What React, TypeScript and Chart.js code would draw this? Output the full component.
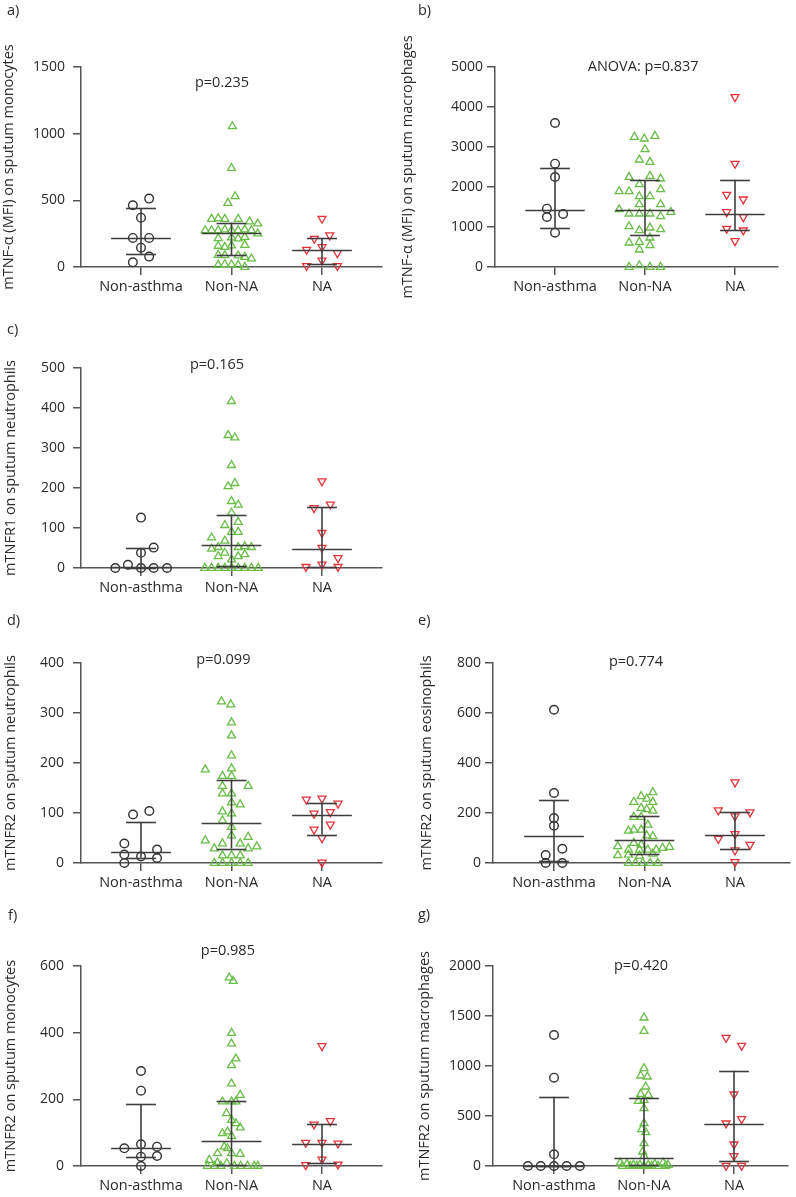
import React, { useEffect, useRef } from "react";
import { Chart, registerables } from "chart.js";
Chart.register(...registerables);

// ---------- DATA ----------
const CATEGORIES = ["Non-asthma", "Non-NA", "NA"];

// Each point: [x offset within the group (category units), value]
type Pt = [number, number];

// a) mTNF-α (MFI) on sputum monocytes
const aNonAsthma: Pt[] = [[0.09, 513], [-0.09, 463], [0, 370], [-0.09, 218], [0.09, 218], [0, 145], [0.09, 78], [-0.09, 35]];
const aNonNA: Pt[] = [
  [0.01, 1055], [0, 742], [0.04, 530], [-0.04, 480],
  [-0.22, 360], [-0.147, 365], [-0.074, 360], [0.074, 360], [0.2, 340], [0.29, 325],
  [-0.29, 275], [-0.22, 275], [-0.147, 275], [-0.074, 280], [0, 275], [0.074, 275], [0.147, 280], [0.22, 275], [0.29, 250],
  [-0.147, 215], [0, 220], [0.074, 213], [0.147, 225],
  [-0.147, 158], [-0.074, 150], [0, 160], [0.147, 165],
  [-0.147, 90], [-0.074, 88], [0.074, 85], [0.147, 75], [0.22, 63],
  [-0.147, 15], [-0.074, 20], [0, 18], [0.074, 15], [0.147, 0],
];
const aNA: Pt[] = [[0, 363], [-0.085, 213], [0.085, 238], [-0.17, 130], [0, 150], [0.17, 105], [0, 50], [-0.17, 8], [0.17, 8]];
const aMedian = [218, 258, 128];
const aQ1 = [97, 88, 20];
const aQ3 = [440, 333, 218];

// b) mTNF-α (MFI) on sputum macrophages
const bNonAsthma: Pt[] = [[0, 3600], [0, 2583], [0, 2250], [-0.09, 1458], [-0.09, 1250], [0.09, 1325], [0, 858]];
const bNonNA: Pt[] = [
  [-0.118, 3250], [-0.008, 3208], [0.11, 3275], [0, 2942], [-0.063, 2683], [0.055, 2625],
  [-0.177, 2250], [0.055, 2275], [0.173, 2208], [-0.063, 2067], [-0.287, 1892], [-0.177, 1892],
  [0.173, 1942], [-0.063, 1767], [0.055, 1767], [-0.063, 1567], [0.173, 1567], [-0.287, 1442],
  [-0.177, 1333], [-0.063, 1333], [0.055, 1333], [0.173, 1267], [0.287, 1375], [-0.177, 1017],
  [-0.063, 917], [0.055, 983], [0.173, 942], [0.055, 733], [-0.063, 625], [-0.177, 608],
  [0.055, 542], [-0.063, 433], [-0.177, 0], [-0.063, 42], [0.055, 0], [0.173, 0],
];
const bNA: Pt[] = [[0, 4250], [0, 2583], [-0.092, 1808], [0.092, 1692], [-0.092, 1375], [0.092, 1250], [-0.092, 958], [0.092, 917], [0, 650]];
const bMedian = [1417, 1433, 1333];
const bQ1 = [975, 808, 917];
const bQ3 = [2483, 2167, 2183];

// c) mTNFR1 on sputum neutrophils
const cNonAsthma: Pt[] = [[0, 126], [0.14, 51], [0, 38], [-0.144, 8], [-0.284, 0], [0, 0], [0.14, 0], [0.288, 0]];
const cNonNA: Pt[] = [
  [0, 417], [-0.037, 332], [0.037, 326], [0, 257], [-0.037, 204], [0.037, 212], [0, 167], [0.074, 158],
  [0, 138], [-0.074, 107], [0.074, 115], [0, 90], [0.074, 90], [-0.22, 76], [-0.074, 68], [-0.147, 52],
  [-0.22, 48], [0.074, 52], [0.147, 54], [0.22, 52], [-0.074, 38], [-0.147, 29], [0.074, 29], [0.147, 34],
  [0, 21], [-0.295, 0], [-0.22, 0], [-0.147, 0], [-0.074, 0], [0, 0], [0.074, 0], [0.147, 0], [0.22, 0], [0.295, 0],
];
const cNA: Pt[] = [[0, 217], [-0.088, 150], [0.092, 159], [0, 88], [0, 51], [0.177, 25], [0, 9], [-0.177, 3], [0.177, 3]];
const cMedian = [3, 57, 47];
const cQ1 = [0, 5, 3];
const cQ3 = [50, 133, 152];

// d) mTNFR2 on sputum neutrophils
const dNonAsthma: Pt[] = [[-0.088, 97], [0.092, 104], [-0.184, 39], [-0.184, 17], [0, 13], [0.177, 27], [0.177, 10], [-0.184, 0]];
const dNonNA: Pt[] = [
  [-0.11, 323], [-0.008, 317], [0, 281], [0, 255], [0, 215], [-0.29, 187], [0, 189], [-0.1, 174], [0, 174],
  [0.184, 154], [-0.1, 154], [-0.1, 139], [0, 139], [0, 121], [0.096, 117], [-0.1, 103], [0, 99], [-0.1, 85],
  [0, 72], [0, 55], [-0.29, 45], [0.184, 52], [-0.1, 39], [0.096, 39], [-0.19, 29], [0.184, 29], [0.28, 33],
  [-0.1, 15], [0, 15], [0.096, 15], [-0.19, 0], [-0.1, 0], [0, 0], [0.096, 0], [0.184, 0],
];
const dNA: Pt[] = [[-0.173, 127], [0, 129], [0.177, 119], [-0.088, 99], [0.092, 102], [-0.088, 67], [0.092, 77], [0, 50], [0, 1]];
const dMedian = [22, 81, 97];
const dQ1 = [11, 29, 57];
const dQ3 = [82, 167, 121];

// e) mTNFR2 on sputum eosinophils
const eNonAsthma: Pt[] = [[0, 613], [0, 280], [0, 180], [0, 149], [0.092, 57], [-0.092, 32], [-0.092, 0], [0.092, 0]];
const eNonNA: Pt[] = [
  [0.092, 283], [-0.037, 267], [0.025, 257], [-0.118, 244], [0.092, 244], [-0.037, 220], [0.025, 215], [0.092, 209],
  [-0.118, 184], [-0.037, 184], [0.037, 153], [-0.177, 129], [-0.118, 133], [-0.037, 133], [0.092, 107], [0.025, 110],
  [-0.118, 80], [-0.037, 73], [-0.295, 67], [-0.177, 53], [-0.055, 53], [0.037, 53], [0.13, 53], [0.2, 60], [0.276, 64],
  [-0.295, 31], [-0.177, 33], [-0.055, 29], [0.092, 37], [-0.177, 0], [-0.1, 0], [-0.019, 0], [0.063, 0], [0.147, 0],
];
const eNA: Pt[] = [[0, 323], [-0.184, 211], [0.166, 203], [0, 187], [0, 116], [-0.184, 97], [0.166, 73], [0, 51], [0, 4]];
const eMedian = [107, 91, 111];
const eQ1 = [7, 37, 57];
const eQ3 = [251, 187, 204];

// f) mTNFR2 on sputum monocytes
const fNonAsthma: Pt[] = [[0, 285], [0, 226], [-0.184, 53], [0, 65], [0.177, 58], [0, 28], [0.177, 30], [0, 0]];
const fNonNA: Pt[] = [
  [-0.025, 565], [0.019, 555], [0, 399], [0, 367], [0.048, 322], [0, 302], [0, 247], [0.096, 213], [-0.1, 193],
  [0, 193], [0.048, 193], [-0.055, 158], [0, 138], [0.048, 128], [0.096, 115], [-0.1, 98], [-0.044, 103], [0, 90],
  [-0.08, 58], [-0.044, 53], [-0.155, 38], [0, 38], [0.096, 36], [-0.246, 18], [-0.155, 10], [-0.052, 8],
  [-0.265, 0], [-0.188, 0], [-0.118, 0], [0.033, 0], [0.1, 0], [0.177, 0], [0.25, 0], [0.29, 0],
];
const fNA: Pt[] = [[0, 360], [-0.088, 125], [0.092, 135], [-0.18, 70], [0, 70], [0.177, 68], [0, 20], [-0.18, 3], [0.177, 5]];
const fMedian = [55, 75, 66];
const fQ1 = [28, 2, 10];
const fQ3 = [186, 196, 126];

// g) mTNFR2 on sputum macrophages
const gNonAsthma: Pt[] = [[0, 1310], [0, 883], [0, 117], [-0.29, 0], [-0.147, 0], [0, 0], [0.14, 0], [0.287, 0]];
const gNonNA: Pt[] = [
  [0, 1483], [0, 1350], [0, 977], [-0.037, 903], [0.037, 893], [0.019, 793], [-0.037, 720], [0.048, 710],
  [-0.063, 650], [0, 660], [0, 577], [0, 427], [-0.025, 367], [0.019, 337], [0, 227], [-0.015, 143], [0, 100],
  [-0.265, 33], [-0.19, 20], [-0.118, 10], [-0.044, 10], [0.048, 10], [0.12, 20], [0.213, 33], [0.268, 10],
  [-0.24, 0], [-0.155, 0], [-0.08, 0], [0, 0], [0.085, 0], [0.155, 0], [0.24, 0],
];
const gNA: Pt[] = [[-0.088, 1283], [0.085, 1203], [0, 717], [-0.088, 427], [0.085, 470], [0, 217], [0, 100], [-0.088, 3], [0.085, 3]];
const gMedian = [0, 83, 417];
const gQ1 = [0, 10, 50];
const gQ3 = [693, 677, 953];

// ---------- STYLE ----------
const FONT = "'Open Sans', sans-serif";
const TEXT = "#2a2a2a";
const AXIS = "#555555";
const LINE = "#3d3d3d";
const GREEN = "#69bd48";
const RED = "#e5323a";
const MED_HALF = 0.33;
const CAP_HALF = 0.165;

interface PanelCfg {
  letter: string; yTitle: string; yMax: number; yStep: number;
  groups: Pt[][]; med: number[]; q1: number[]; q3: number[];
  pText: string; pX: number; pY: number;
  left: number; top: number; width: number; height: number;
  areaLeft: number; areaRight: number; areaTop: number; areaBottom: number; axisH: number;
  xMin: number; xMax: number; titleOffset: number; tickPad: number;
  letterX: number; letterY: number;
}

const PANELS: PanelCfg[] = [
  { letter: "a)", yTitle: "mTNF-α (MFI) on sputum monocytes", yMax: 1500, yStep: 500,
    groups: [aNonAsthma, aNonNA, aNA], med: aMedian, q1: aQ1, q3: aQ3, pText: "p=0.235", pX: 0.895, pY: 1380,
    left: 0, top: 0, width: 398, height: 300, areaLeft: 81, areaRight: 382, areaTop: 67, areaBottom: 267, axisH: 33,
    xMin: -0.663, xMax: 2.663, titleOffset: 0, tickPad: 8, letterX: 7, letterY: 15 },
  { letter: "b)", yTitle: "mTNF-α (MFI) on sputum macrophages", yMax: 5000, yStep: 1000,
    groups: [bNonAsthma, bNonNA, bNA], med: bMedian, q1: bQ1, q3: bQ3, pText: "ANOVA: p=0.837", pX: 0.98, pY: 5000,
    left: 398, top: 0, width: 398, height: 300, areaLeft: 495, areaRight: 778, areaTop: 67, areaBottom: 267, axisH: 33,
    xMin: -0.667, xMax: 2.478, titleOffset: 1, tickPad: 4, letterX: 418, letterY: 15 },
  { letter: "c)", yTitle: "mTNFR1 on sputum neutrophils", yMax: 500, yStep: 100,
    groups: [cNonAsthma, cNonNA, cNA], med: cMedian, q1: cQ1, q3: cQ3, pText: "p=0.165", pX: 0.84, pY: 507,
    left: 0, top: 300, width: 398, height: 301, areaLeft: 81, areaRight: 382, areaTop: 368, areaBottom: 568, axisH: 33,
    xMin: -0.663, xMax: 2.663, titleOffset: 2, tickPad: 8, letterX: 7, letterY: 334 },
  { letter: "d)", yTitle: "mTNFR2 on sputum neutrophils", yMax: 400, yStep: 100,
    groups: [dNonAsthma, dNonNA, dNA], med: dMedian, q1: dQ1, q3: dQ3, pText: "p=0.099", pX: 0.91, pY: 406,
    left: 0, top: 595, width: 398, height: 301, areaLeft: 81, areaRight: 382, areaTop: 663, areaBottom: 863, axisH: 33,
    xMin: -0.663, xMax: 2.663, titleOffset: 2, tickPad: 9, letterX: 7, letterY: 625 },
  { letter: "e)", yTitle: "mTNFR2 on sputum eosinophils", yMax: 800, yStep: 200,
    groups: [eNonAsthma, eNonNA, eNA], med: eMedian, q1: eQ1, q3: eQ3, pText: "p=0.774", pX: 0.906, pY: 804,
    left: 398, top: 595, width: 398, height: 301, areaLeft: 493, areaRight: 790, areaTop: 663, areaBottom: 863, axisH: 33,
    xMin: -0.674, xMax: 2.608, titleOffset: 20, tickPad: 4, letterX: 418, letterY: 625 },
  { letter: "f)", yTitle: "mTNFR2 on sputum monocytes", yMax: 600, yStep: 200,
    groups: [fNonAsthma, fNonNA, fNA], med: fMedian, q1: fQ1, q3: fQ3, pText: "p=0.985", pX: 0.96, pY: 645,
    left: 0, top: 895, width: 398, height: 302, areaLeft: 81, areaRight: 382, areaTop: 966, areaBottom: 1166, axisH: 31,
    xMin: -0.663, xMax: 2.663, titleOffset: 2, tickPad: 9, letterX: 8, letterY: 920 },
  { letter: "g)", yTitle: "mTNFR2 on sputum macrophages", yMax: 2000, yStep: 500,
    groups: [gNonAsthma, gNonNA, gNA], med: gMedian, q1: gQ1, q3: gQ3, pText: "p=0.420", pX: 0.967, pY: 2000,
    left: 398, top: 895, width: 398, height: 302, areaLeft: 493, areaRight: 788, areaTop: 966, areaBottom: 1166, axisH: 31,
    xMin: -0.678, xMax: 2.6, titleOffset: 18, tickPad: 4, letterX: 418, letterY: 919 },
];

const GROUP_STYLES = [
  { pointStyle: "circle", radius: 4.3, borderColor: "#333333", rotation: 0, borderWidth: 1.4 },
  { pointStyle: "triangle", radius: 4.6, borderColor: GREEN, rotation: 0, borderWidth: 1.3 },
  { pointStyle: "triangle", radius: 4.6, borderColor: RED, rotation: 180, borderWidth: 1.3 },
];

function Panel({ cfg }: { cfg: PanelCfg }) {
  const ref = useRef<HTMLCanvasElement>(null);
  useEffect(() => {
    const c = cfg;
    const padBottom = c.height - (c.areaBottom - c.top) - c.axisH;
    const summaryPlugin = {
      id: "summary",
      afterDatasetsDraw(chart: any) {
        const { ctx } = chart;
        const x = chart.scales.x;
        const y = chart.scales.y;
        ctx.save();
        ctx.strokeStyle = LINE;
        ctx.lineWidth = 1.6;
        const hline = (i: number, v: number, half: number) => {
          const py = Math.round(y.getPixelForValue(v)) + 0.5;
          ctx.beginPath();
          ctx.moveTo(x.getPixelForValue(i - half), py);
          ctx.lineTo(x.getPixelForValue(i + half), py);
          ctx.stroke();
        };
        for (let i = 0; i < 3; i++) {
          const cx = x.getPixelForValue(i);
          ctx.beginPath();
          ctx.moveTo(cx, y.getPixelForValue(c.q1[i]));
          ctx.lineTo(cx, y.getPixelForValue(c.q3[i]));
          ctx.stroke();
          hline(i, c.med[i], MED_HALF);
          hline(i, c.q1[i], CAP_HALF);
          hline(i, c.q3[i], CAP_HALF);
        }
        ctx.fillStyle = TEXT;
        ctx.font = `14.5px ${FONT}`;
        ctx.textAlign = "center";
        ctx.textBaseline = "middle";
        ctx.fillText(c.pText, x.getPixelForValue(c.pX), y.getPixelForValue(c.pY));
        ctx.textAlign = "left";
        ctx.textBaseline = "alphabetic";
        ctx.fillText(c.letter, c.letterX - c.left, c.letterY - c.top);
        ctx.restore();
      },
    };
    const datasets = c.groups.map((g, gi) => ({
      label: CATEGORIES[gi],
      data: g.map(([off, v]) => ({ x: gi + off, y: v })),
      pointStyle: GROUP_STYLES[gi].pointStyle,
      pointRadius: GROUP_STYLES[gi].radius,
      pointRotation: GROUP_STYLES[gi].rotation,
      pointBorderColor: GROUP_STYLES[gi].borderColor,
      pointBackgroundColor: "rgba(0,0,0,0)",
      pointBorderWidth: GROUP_STYLES[gi].borderWidth,
      showLine: false,
      clip: false as any,
    }));
    const chart = new Chart(ref.current as HTMLCanvasElement, {
      type: "scatter",
      data: { datasets: datasets as any },
      plugins: [summaryPlugin],
      options: {
        responsive: false,
        animation: false,
        devicePixelRatio: 1,
        events: [],
        layout: {
          padding: { left: 0, top: c.areaTop - c.top, right: c.left + c.width - c.areaRight, bottom: padBottom },
        },
        plugins: { legend: { display: false }, tooltip: { enabled: false } },
        scales: {
          x: {
            type: "linear",
            bounds: "data",
            min: c.xMin,
            max: c.xMax,
            afterBuildTicks: (s: any) => { s.ticks = [0, 1, 2].map((v) => ({ value: v })); },
            afterFit: (s: any) => { s.height = c.axisH; },
            grid: { drawOnChartArea: false, drawTicks: true, tickLength: 8, color: AXIS, lineWidth: 1.5 },
            border: { display: true, color: AXIS, width: 1.5 },
            ticks: {
              callback: (v: any) => CATEGORIES[v] ?? "",
              font: { family: FONT, size: 14.5 },
              color: TEXT, padding: 3, maxRotation: 0, autoSkip: false,
            },
          },
          y: {
            type: "linear",
            min: 0,
            max: c.yMax,
            afterFit: (s: any) => { s.width = c.areaLeft - c.left; },
            grid: { drawOnChartArea: false, drawTicks: true, tickLength: 8, color: AXIS, lineWidth: 1.5 },
            border: { display: true, color: AXIS, width: 1.5 },
            ticks: {
              stepSize: c.yStep,
              callback: (v: any) => String(v),
              font: { family: FONT, size: 14 }, color: TEXT, padding: c.tickPad,
            },
            title: {
              display: true, text: c.yTitle, color: TEXT,
              font: { family: FONT, size: 14.5 },
              padding: { top: c.titleOffset, bottom: 0 },
            },
          },
        },
      } as any,
    });
    return () => chart.destroy();
  }, [cfg]);
  return (
    <canvas
      ref={ref}
      width={cfg.width}
      height={cfg.height}
      style={{ position: "absolute", left: cfg.left, top: cfg.top, width: cfg.width, height: cfg.height }}
    />
  );
}

export default function App() {
  return (
    <div style={{ position: "absolute", left: 0, top: 0, width: 796, height: 1197, background: "#ffffff", overflow: "hidden" }}>
      {PANELS.map((p) => (
        <Panel key={p.letter} cfg={p} />
      ))}
    </div>
  );
}
